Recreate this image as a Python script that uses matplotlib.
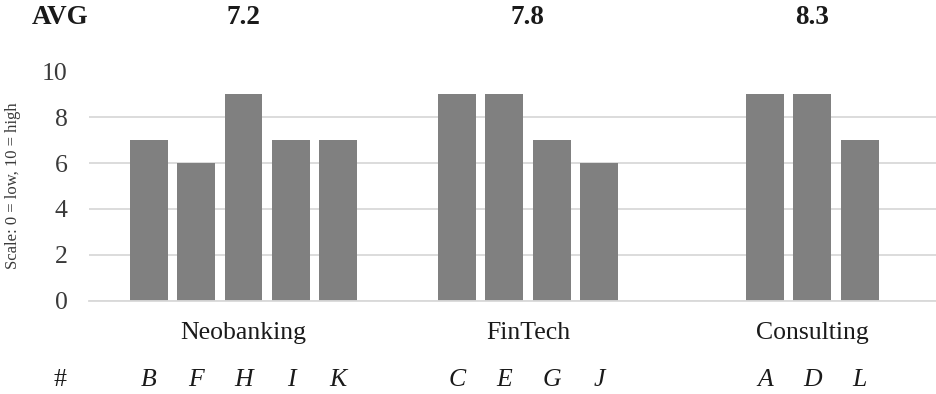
import matplotlib.pyplot as plt
import matplotlib.transforms as mtransforms
import numpy as np

plt.rcParams['font.family'] = ['Liberation Serif', 'DejaVu Serif']

# scores per firm, grouped by sector
groups = ['Neobanking', 'FinTech', 'Consulting']
letters = [['B', 'F', 'H', 'I', 'K'], ['C', 'E', 'G', 'J'], ['A', 'D', 'L']]
scores = [[7, 6, 9, 7, 7], [9, 9, 7, 6], [9, 9, 7]]
group_start = [0.0, 6.5, 13.0]   # slot where each sector's first bar sits

bar_color = '#808080'
grid_color = '#d9d9d9'
text_color = '#1a1a1a'

fig = plt.figure(figsize=(9.37, 3.94), dpi=100)
ax = fig.add_axes([89 / 937, 93.5 / 394, 1 - 89 / 937, 229 / 394])

trans = mtransforms.blended_transform_factory(ax.transData, fig.transFigure)

for name, labs, vals, start in zip(groups, letters, scores, group_start):
    xs = start + np.arange(len(vals))
    ax.bar(xs, vals, width=0.8, color=bar_color, zorder=2)
    for x, lab in zip(xs, labs):
        ax.text(x, 1 - 380 / 394, lab, transform=trans, ha='center', va='center',
                fontsize=18.5, style='italic', color=text_color)
    mid = xs.mean()
    ax.text(mid, 1 - 333 / 394, name, transform=trans, ha='center', va='center',
            fontsize=18.5, color=text_color)
    avg = np.mean(vals)
    ax.text(mid, 1 - 18 / 394, f'{avg:.1f}', transform=trans, ha='center', va='center',
            fontsize=19.5, fontweight='bold', color=text_color)

fig.text(60 / 937, 1 - 18 / 394, 'AVG', ha='center', va='center',
         fontsize=19.5, fontweight='bold', color=text_color)
fig.text(60 / 937, 1 - 380 / 394, '#', ha='center', va='center',
         fontsize=18.5, color=text_color)

ax.set_xlim(-1.26, 16.63)
ax.set_ylim(0, 10)
ax.set_yticks(range(0, 11, 2))
ax.set_xticks([])
ax.tick_params(axis='y', length=0, labelsize=18.5, labelcolor='#3a3a3a', pad=15.5)
ax.yaxis.grid(True, color=grid_color, linewidth=1.3, zorder=0)
ax.set_axisbelow(True)
for s in ['top', 'right', 'left']:
    ax.spines[s].set_visible(False)
ax.spines['bottom'].set_color(grid_color)
ax.spines['bottom'].set_linewidth(1.3)

fig.text(13 / 937, 1 - 186 / 394, 'Scale: 0 = low, 10 = high', rotation=90,
         ha='center', va='center', fontsize=12, color='#3a3a3a')

fig.savefig('out.png', dpi=100)
